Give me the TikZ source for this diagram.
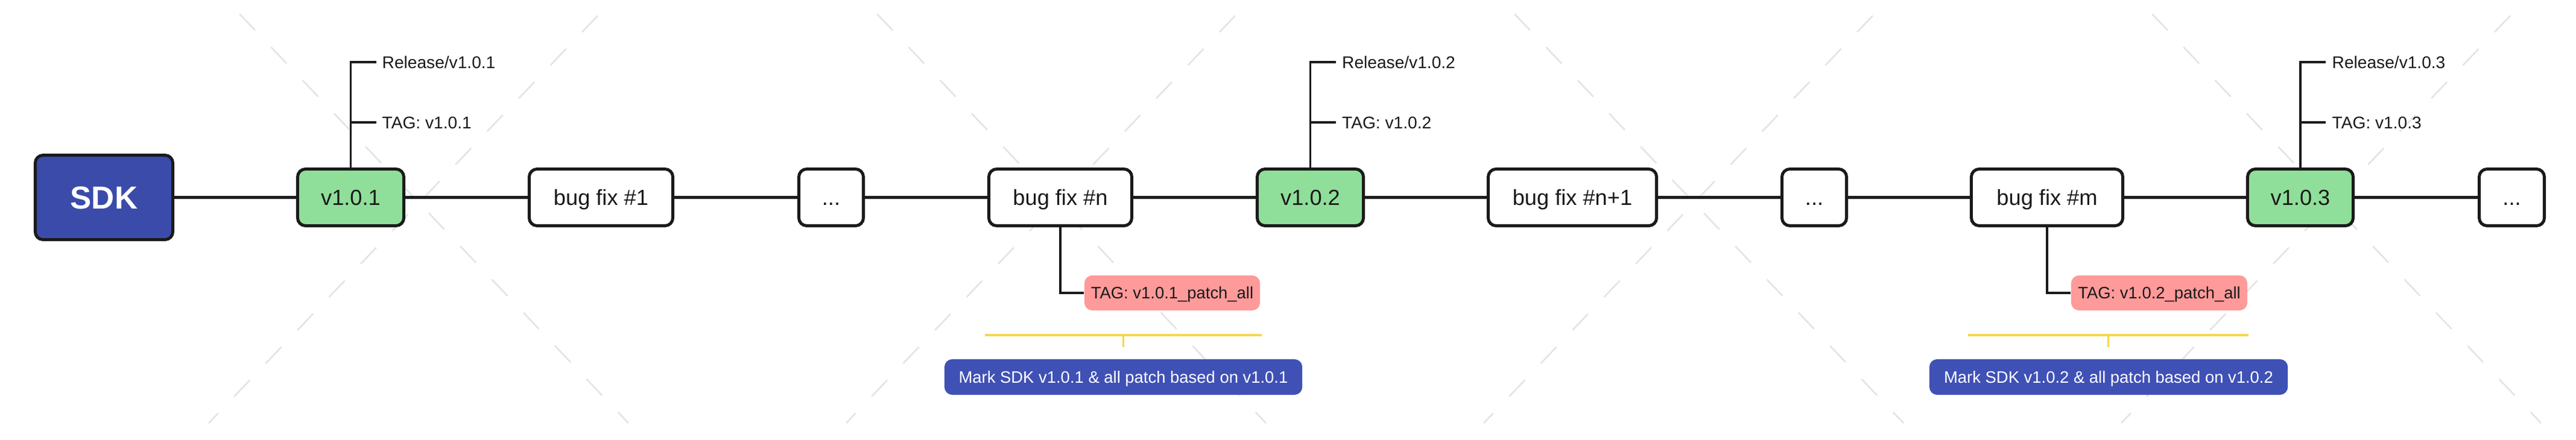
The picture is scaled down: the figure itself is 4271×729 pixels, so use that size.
\documentclass[tikz,border=0pt]{standalone}
\usepackage{fontspec}
\setmainfont{Liberation Sans}
\definecolor{sdkblue}{HTML}{3B4BAA}
\definecolor{lblblue}{HTML}{3F51B5}
\definecolor{relgreen}{HTML}{8FDE99}
\definecolor{tagred}{HTML}{FF9A9A}
\definecolor{brk}{HTML}{F6D84A}
\definecolor{wm}{HTML}{E4E4E4}
\definecolor{ink}{HTML}{1A1A1A}
\tikzset{
  wmline/.style={draw=wm, line width=0.75pt, dash pattern=on 10.7pt off 10.9pt},
  mainline/.style={draw=ink, line width=1.25pt},
  thinline/.style={draw=ink, line width=0.9pt},
  stepbox/.style={draw=ink, line width=1.42pt, rounded corners=3.7pt, fill=white, inner sep=0pt,
    minimum height=0.94cm, text height=7.4pt, text depth=0pt,
    font=\fontsize{10.3pt}{12pt}\selectfont, text=ink},
  relbox/.style={stepbox, fill=relgreen},
  sdkbox/.style={stepbox, fill=sdkblue, minimum width=2.28cm, minimum height=1.40cm, text=white,
    font=\fontsize{15pt}{18pt}\selectfont\bfseries, text height=10.7pt},
  lbl/.style={inner sep=0pt, anchor=base west, font=\fontsize{8pt}{10pt}\selectfont, text=ink},
  tagbox/.style={fill=tagred, rounded corners=3.7pt, inner sep=0pt, minimum height=0.58cm,
    minimum width=2.91cm, text height=5.6pt, text depth=0pt,
    font=\fontsize{7.8pt}{10pt}\selectfont, text=ink},
  markbox/.style={fill=lblblue, rounded corners=3.7pt, inner sep=0pt, minimum height=0.59cm,
    minimum width=5.93cm, text height=5.6pt, text depth=0pt,
    font=\fontsize{7.8pt}{10pt}\selectfont, text=white},
  bracket/.style={draw=brk, line width=0.9pt},
}
\begin{document}
\begin{tikzpicture}[x=0.01cm,y=-0.01cm]
\useasboundingbox (0,0) rectangle (4271,729);
\fill[white] (0,0) rectangle (4271,729);
% watermark crosses
\foreach \k in {0,1057,2114,3171} {
  \draw[wmline] (397+\k,23) -- (1042+\k,702);
  \draw[wmline] (991+\k,26) -- (346+\k,702);
}
% main chain
\node[sdkbox] (sdk) at (172.5,327.5) {SDK};
\node[relbox, minimum width=1.76cm] (v101) at (581.5,327.5) {v1.0.1};
\node[stepbox, minimum width=2.38cm] (bf1) at (996.5,327.5) {bug fix \#1};
\node[stepbox, minimum width=1.07cm] (d1) at (1378,327.5) {...};
\node[stepbox, minimum width=2.37cm] (bfn) at (1758,327.5) {bug fix \#n};
\node[relbox, minimum width=1.76cm] (v102) at (2172.5,327.5) {v1.0.2};
\node[stepbox, minimum width=2.79cm] (bfn1) at (2607,327.5) {bug fix \#n+1};
\node[stepbox, minimum width=1.07cm] (d2) at (3008,327.5) {...};
\node[stepbox, minimum width=2.51cm] (bfm) at (3394,327.5) {bug fix \#m};
\node[relbox, minimum width=1.75cm] (v103) at (3814,327.5) {v1.0.3};
\node[stepbox, minimum width=1.08cm] (d3) at (4164.5,327.5) {...};
\draw[mainline] (sdk) -- (v101) -- (bf1) -- (d1) -- (bfn) -- (v102) -- (bfn1) -- (d2) -- (bfm) -- (v103) -- (d3);
% release labels
\node[lbl] (rel1) at (633,113) {Release/v1.0.1};
\node[lbl] (tag1) at (633,213) {TAG: v1.0.1};
\coordinate (rel1t) at (623.5,103);
\coordinate (tag1t) at (623.5,203);
\draw[thinline] (v101.north) |- (rel1t);
\draw[thinline] (v101.north |- tag1t) -- (tag1t);
\node[lbl] (rel2) at (2224.5,113) {Release/v1.0.2};
\node[lbl] (tag2) at (2224.5,213) {TAG: v1.0.2};
\coordinate (rel2t) at (2214.5,103);
\coordinate (tag2t) at (2214.5,203);
\draw[thinline] (v102.north) |- (rel2t);
\draw[thinline] (v102.north |- tag2t) -- (tag2t);
\node[lbl] (rel3) at (3866,113) {Release/v1.0.3};
\node[lbl] (tag3) at (3866,213) {TAG: v1.0.3};
\coordinate (rel3t) at (3856,103);
\coordinate (tag3t) at (3856,203);
\draw[thinline] (v103.north) |- (rel3t);
\draw[thinline] (v103.north |- tag3t) -- (tag3t);
% patch tags
\node[tagbox] (tagp1) at (1943.5,486) {TAG: v1.0.1\_patch\_all};
\draw[thinline] (bfn.south) |- (tagp1.west);
\node[tagbox, minimum width=2.92cm] (tagp2) at (3580,486) {TAG: v1.0.2\_patch\_all};
\draw[thinline] (bfm.south) |- (tagp2.west);
% brackets and marks
\node[markbox] (mark1) at (1862.5,625.5) {Mark SDK v1.0.1 \& all patch based on v1.0.1};
\coordinate (b1l) at (1633,556);
\coordinate (b1r) at (2092,556);
\coordinate (b1t) at (1862.5,576);
\draw[bracket] (b1l) -- (b1r);
\draw[bracket] (b1t |- b1l) -- (b1t);
\node[markbox, minimum width=5.94cm] (mark2) at (3496,625.5) {Mark SDK v1.0.2 \& all patch based on v1.0.2};
\coordinate (b2l) at (3263,556);
\coordinate (b2r) at (3728,556);
\coordinate (b2t) at (3495.5,576);
\draw[bracket] (b2l) -- (b2r);
\draw[bracket] (b2t |- b2l) -- (b2t);
\end{tikzpicture}
\end{document}
